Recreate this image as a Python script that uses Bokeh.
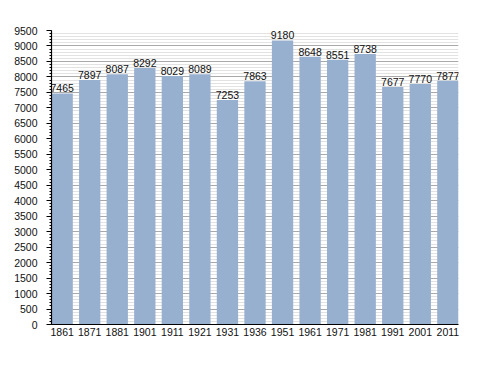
from bokeh.plotting import figure
from bokeh.models import Range1d, SingleIntervalTicker, FixedTicker, ColumnDataSource
from bokeh.core.properties import value
from bokeh.embed import file_html
from bokeh.resources import INLINE

years = ["1861", "1871", "1881", "1901", "1911", "1921", "1931", "1936",
         "1951", "1961", "1971", "1981", "1991", "2001", "2011"]
population = [7465, 7897, 8087, 8292, 8029, 8089, 7253, 7863,
              9180, 8648, 8551, 8738, 7677, 7770, 7877]

idx = list(range(len(years)))
BW = 0.774
src = ColumnDataSource(dict(x=idx, y=population, label=[str(v) for v in population]))

W, H = 478, 364
p = figure(width=W, height=H, output_backend="svg", toolbar_location=None,
           x_range=Range1d(-BW / 2, len(years) - 1 + BW / 2),
           y_range=Range1d(0, 9500),
           min_border_left=51, min_border_right=20,
           min_border_top=30, min_border_bottom=40)
p.outline_line_color = None
p.background_fill_color = "white"
p.border_fill_color = "white"

p.vbar(x="x", top="y", width=BW, source=src, fill_color="#98B0CF", line_color=None)
p.text(x="x", y="y", text="label", source=src, text_align="center",
       text_baseline="alphabetic", y_offset=-5,
       text_font=value("Liberation Sans"), text_font_size="10.5px", text_color="#111111")

p.xgrid.visible = False
p.yaxis.ticker = SingleIntervalTicker(interval=500, num_minor_ticks=5)
p.ygrid.grid_line_color = "#a9a9a9"
p.ygrid.minor_grid_line_color = "#e2e2e2"
p.ygrid.grid_line_width = 1

p.xaxis.ticker = FixedTicker(ticks=idx)
p.xaxis.major_label_overrides = {i: y for i, y in zip(idx, years)}
p.xaxis.major_tick_line_color = None
p.xaxis.minor_tick_line_color = None
p.xaxis.major_tick_out = 0
p.xaxis.major_label_standoff = 3

for ax in (p.xaxis, p.yaxis):
    ax.axis_line_color = "black"
    ax.axis_line_width = 1.2
    ax.major_label_text_font = "Liberation Sans"
    ax.major_label_text_font_size = "10.5px"
    ax.major_label_text_color = "#111111"

p.yaxis.major_tick_line_color = "black"
p.yaxis.minor_tick_line_color = "black"
p.yaxis.major_tick_out = 5
p.yaxis.major_tick_in = 0
p.yaxis.minor_tick_out = 2
p.yaxis.minor_tick_in = 0
p.yaxis.major_label_standoff = 9

open("out.html", "w").write(file_html(p, INLINE))
